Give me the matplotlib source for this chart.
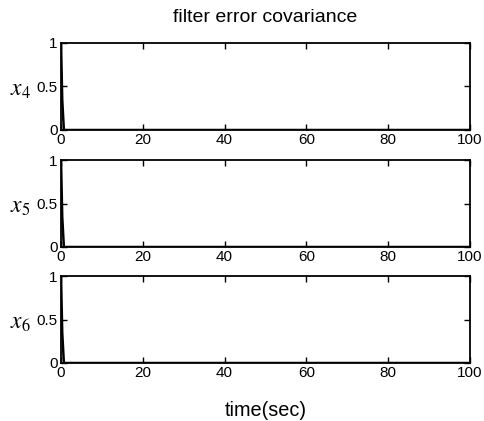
import matplotlib
matplotlib.use("Agg")
import matplotlib.pyplot as plt

plt.rcParams['font.family'] = ['Liberation Sans', 'DejaVu Sans']
plt.rcParams['mathtext.fontset'] = 'stix'

# Filter error covariance for states x4, x5, x6 (diagonal terms)
time = [0.0, 0.3, 0.7, 100.0]
cov_x4 = [1.0, 0.35, 0.0, 0.0]
cov_x5 = [1.0, 0.35, 0.0, 0.0]
cov_x6 = [1.0, 0.35, 0.0, 0.0]
state_labels = [r'$x_4$', r'$x_5$', r'$x_6$']
xticks = [0, 20, 40, 60, 80, 100]
yticks = [0, 0.5, 1]
yticklabels = ['0', '0.5', '1']

W, H = 484, 421
fig = plt.figure(figsize=(W / 100, H / 100), dpi=100)

# axes boxes in pixels: (left, top, right, bottom)
boxes = [(61, 43, 470, 130), (61, 160, 470, 247), (61, 276, 470, 363)]

for (l, t, r, b), series, lab in zip(boxes, [cov_x4, cov_x5, cov_x6], state_labels):
    ax = fig.add_axes([l / W, 1 - b / H, (r - l) / W, (b - t) / H])
    ax.plot(time, series, color='black', lw=1.8)
    ax.set_xlim(0, 100)
    ax.set_ylim(0, 1)
    ax.set_xticks(xticks)
    ax.set_yticks(yticks)
    ax.set_yticklabels(yticklabels)
    ax.tick_params(direction='in', length=4, width=1, top=True, right=True,
                   labelsize=11)
    ax.tick_params(axis='x', pad=2.5)
    ax.tick_params(axis='y', pad=2.5)
    for s in ax.spines.values():
        s.set_linewidth(1.3)
    ax.text(-0.074, 0.47, lab, transform=ax.transAxes, fontsize=17,
            ha='right', va='center', fontstyle='italic')

cx = 0.5 + 0.5 * (61 + 470 - W) / W
fig.text(cx, 1 - 17 / H, 'filter error covariance',
         ha='center', va='center', fontsize=14)
fig.text(cx, 1 - 410 / H, 'time(sec)',
         ha='center', va='center', fontsize=14.3)

fig.savefig('out.png', dpi=100)
